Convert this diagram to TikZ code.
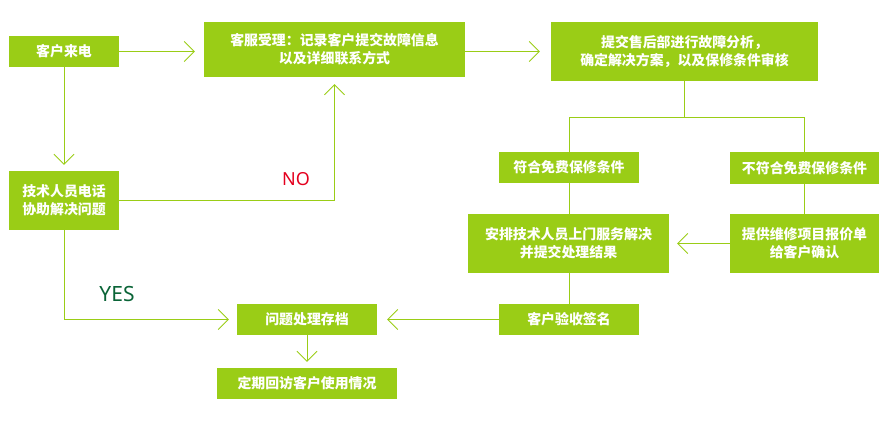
\documentclass[tikz,border=0pt]{standalone}
\usepackage{fontspec}
\newfontfamily\cjk{Noto Sans CJK SC}
\newfontfamily\latinlbl{Noto Sans}
\usetikzlibrary{arrows.meta}
\definecolor{lgreen}{RGB}{154,205,22}
\definecolor{yesgreen}{RGB}{10,100,55}
\definecolor{nored}{RGB}{228,0,30}
\tikzset{
  box/.style={fill=lgreen, draw=none, inner sep=0pt, align=center, text=white,
    font=\cjk\bfseries\fontsize{13.9}{18}\selectfont},
  conn/.style={draw=lgreen, line width=1pt},
  arr/.style={conn, -{Straight Barb[length=10pt,width=20pt,line width=0.9pt]}},
}
\begin{document}
\begin{tikzpicture}[x=1pt,y=-1pt]
\useasboundingbox (0,0) rectangle (887,426);
\node[box, minimum width=110pt, minimum height=31pt] (A) at (64,51.5) {客户来电};
\node[box, minimum width=261pt, minimum height=55pt] (B) at (334.5,49.5) {客服受理：记录客户提交故障信息\\以及详细联系方式};
\node[box, minimum width=267pt, minimum height=59pt] (C) at (684.5,51.5) {提交售后部进行故障分析，\\确定解决方案，以及保修条件审核};
\node[box, minimum width=110pt, minimum height=59pt] (D) at (64,200.5) {技术人员电话\\协助解决问题};
\node[box, minimum width=140pt, minimum height=31pt] (E) at (569,167.5) {符合免费保修条件};
\node[box, minimum width=149pt, minimum height=32pt] (F) at (804.5,168) {不符合免费保修条件};
\node[box, minimum width=201pt, minimum height=59pt] (G) at (568.5,243.5) {安排技术人员上门服务解决\\并提交处理结果};
\node[box, minimum width=149pt, minimum height=59pt] (H) at (804.5,243.5) {提供维修项目报价单\\给客户确认};
\node[box, minimum width=140pt, minimum height=31pt] (I) at (569,319.5) {客户验收签名};
\node[box, minimum width=140pt, minimum height=31pt] (J) at (307,319.5) {问题处理存档};
\node[box, minimum width=180pt, minimum height=31pt] (K) at (307,383.5) {定期回访客户使用情况};
\node[text=nored, font=\latinlbl\fontsize{18}{20}\selectfont, inner sep=0pt] (no) at (296,179) {NO};
\node[text=yesgreen, font=\latinlbl\fontsize{21}{24}\selectfont, inner sep=0pt] (yes) at (117,294) {YES};
\coordinate (split) at (684.5,117);
% connectors
\draw[arr, shorten >=9pt] (A.east) -- (A.east -| B.west);
\draw[arr, shorten >=11pt] (C.west -| B.east) -- (C.west);
\draw[arr, shorten >=6pt] (A.south) -- (D.north);
\draw[arr, shorten >=7pt] (D.east) -| (B.south);
\draw[conn] (C.south) -- (split);
\draw[conn] (split) -| (E.north);
\draw[conn] (split) -| (F.north);
\draw[conn] (E.south) -- (G.north -| E.south);
\draw[conn] (F.south) -- (H.north);
\draw[arr, shorten >=8pt] (H.west) -- (G.east);
\draw[conn] (G.south -| E.south) -- (I.north);
\draw[arr, shorten >=10pt] (I.west) -- (J.east);
\draw[arr, shorten >=8pt] (D.south) |- (J.west);
\draw[arr, shorten >=6pt] (J.south) -- (K.north);
\end{tikzpicture}
\end{document}
